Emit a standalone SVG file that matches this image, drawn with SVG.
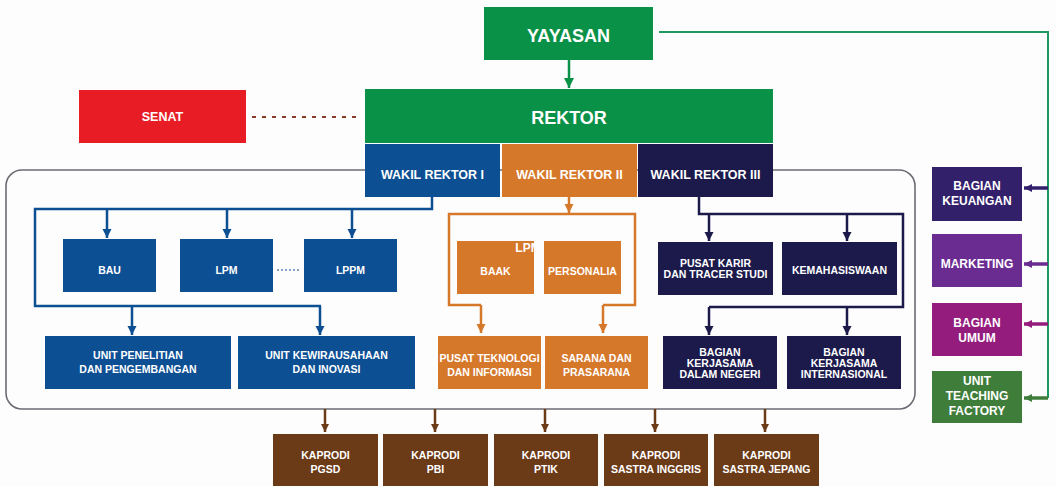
<svg xmlns="http://www.w3.org/2000/svg" width="1056" height="486" viewBox="0 0 1056 486">
<defs>
<style>
text{font-family:"Liberation Sans",Arial,sans-serif;font-weight:bold;fill:#ffffff;text-anchor:middle}
.t10{font-size:10.5px}
.t11{font-size:12px}
.t12{font-size:12.5px}
.t17{font-size:18px}
.ln{fill:none;stroke-width:2.5}
.blue{stroke:#0d4f93}
.orange{stroke:#d6782a}
.navy{stroke:#1c1a4b}
.brown{stroke:#6b3a17}
</style>
<marker id="mBlue" viewBox="0 0 10 10" refX="10" refY="5" markerWidth="9" markerHeight="10" markerUnits="userSpaceOnUse" orient="auto"><path d="M0,0 L10,5 L0,10 z" fill="#0d4f93"/></marker>
<marker id="mOrange" viewBox="0 0 10 10" refX="10" refY="5" markerWidth="9" markerHeight="10" markerUnits="userSpaceOnUse" orient="auto"><path d="M0,0 L10,5 L0,10 z" fill="#d6782a"/></marker>
<marker id="mNavy" viewBox="0 0 10 10" refX="10" refY="5" markerWidth="9" markerHeight="10" markerUnits="userSpaceOnUse" orient="auto"><path d="M0,0 L10,5 L0,10 z" fill="#1c1a4b"/></marker>
<marker id="mBrown" viewBox="0 0 10 10" refX="10" refY="5" markerWidth="8" markerHeight="8" markerUnits="userSpaceOnUse" orient="auto"><path d="M0,0 L10,5 L0,10 z" fill="#6b3a17"/></marker>
<marker id="mGreen" viewBox="0 0 10 10" refX="10" refY="5" markerWidth="10" markerHeight="10" markerUnits="userSpaceOnUse" orient="auto"><path d="M0,0 L10,5 L0,10 z" fill="#0a9148"/></marker>
<marker id="mKeu" viewBox="0 0 10 10" refX="10" refY="5" markerWidth="10" markerHeight="8" markerUnits="userSpaceOnUse" orient="auto"><path d="M0,0 L10,5 L0,10 z" fill="#32206b"/></marker>
<marker id="mMkt" viewBox="0 0 10 10" refX="10" refY="5" markerWidth="10" markerHeight="8" markerUnits="userSpaceOnUse" orient="auto"><path d="M0,0 L10,5 L0,10 z" fill="#6a2c91"/></marker>
<marker id="mUmum" viewBox="0 0 10 10" refX="10" refY="5" markerWidth="10" markerHeight="8" markerUnits="userSpaceOnUse" orient="auto"><path d="M0,0 L10,5 L0,10 z" fill="#931c7c"/></marker>
<marker id="mUtf" viewBox="0 0 10 10" refX="10" refY="5" markerWidth="10" markerHeight="8" markerUnits="userSpaceOnUse" orient="auto"><path d="M0,0 L10,5 L0,10 z" fill="#3f7d3b"/></marker>
</defs>
<rect width="1056" height="486" fill="#fdfdfd"/>

<g id="frame">
<rect x="6" y="170" width="909" height="239" rx="16" ry="16" fill="none" stroke="#6b6b73" stroke-width="1.6"/>
</g>

<g id="connectors">
<path d="M569,60 L569,88" class="ln" stroke="#0a9148" marker-end="url(#mGreen)"/>
<path d="M252,117 L357,117" fill="none" stroke="#8a3a2a" stroke-width="1.8" stroke-dasharray="4,6"/>
<path d="M659,32 L1048,32 L1048,398" fill="none" stroke="#1a9a5e" stroke-width="2"/>
<path d="M1048,188 L1024,188" fill="none" stroke="#32206b" stroke-width="3.5" marker-end="url(#mKeu)"/>
<path d="M1048,264 L1024,264" fill="none" stroke="#6a2c91" stroke-width="3.5" marker-end="url(#mMkt)"/>
<path d="M1048,324 L1024,324" fill="none" stroke="#931c7c" stroke-width="3.5" marker-end="url(#mUmum)"/>
<path d="M1048,398 L1024,398" fill="none" stroke="#3f7d3b" stroke-width="3.5" marker-end="url(#mUtf)"/>

<path d="M432,197 L432,209 L35,209 L35,306 L321,306" class="ln blue"/>
<path d="M107,209 L107,238" class="ln blue" stroke-width="3.5" marker-end="url(#mBlue)"/>
<path d="M227,209 L227,238" class="ln blue" stroke-width="3.5" marker-end="url(#mBlue)"/>
<path d="M352,209 L352,238" class="ln blue" stroke-width="3.5" marker-end="url(#mBlue)"/>
<path d="M132,306 L132,335" class="ln blue" stroke-width="3.5" marker-end="url(#mBlue)"/>
<path d="M320,306 L320,335" class="ln blue" stroke-width="3.5" marker-end="url(#mBlue)"/>
<path d="M277,270 L301,270" fill="none" stroke="#0d4f93" stroke-width="1.2" stroke-dasharray="2,2"/>

<path d="M569,197 L569,213" class="ln orange" marker-end="url(#mOrange)"/>
<path d="M481,305 L449,305 L449,214 L635,214 L635,305 L603,305" class="ln orange"/>
<path d="M481,305 L481,333" class="ln orange" stroke-width="3.5" marker-end="url(#mOrange)"/>
<path d="M603,305 L603,333" class="ln orange" stroke-width="3.5" marker-end="url(#mOrange)"/>

<path d="M699,197 L699,214 L903,214 L903,307 L709,307" class="ln navy"/>
<path d="M709,214 L709,241" class="ln navy" stroke-width="3.5" marker-end="url(#mNavy)"/>
<path d="M847,214 L847,241" class="ln navy" stroke-width="3.5" marker-end="url(#mNavy)"/>
<path d="M709,307 L709,335" class="ln navy" stroke-width="3.5" marker-end="url(#mNavy)"/>
<path d="M847,307 L847,335" class="ln navy" stroke-width="3.5" marker-end="url(#mNavy)"/>

<path d="M325,409 L325,432" class="ln brown" stroke-width="3" marker-end="url(#mBrown)"/>
<path d="M435,409 L435,432" class="ln brown" stroke-width="3" marker-end="url(#mBrown)"/>
<path d="M545,409 L545,432" class="ln brown" stroke-width="3" marker-end="url(#mBrown)"/>
<path d="M655,409 L655,432" class="ln brown" stroke-width="3" marker-end="url(#mBrown)"/>
<path d="M765,409 L765,432" class="ln brown" stroke-width="3" marker-end="url(#mBrown)"/>
</g>

<g id="yayasan"><rect x="484" y="7" width="169" height="53" fill="#0a9148"/><text x="568.5" y="42" class="t17">YAYASAN</text></g>
<g id="senat"><rect x="79" y="90" width="167" height="53" fill="#e81c24"/><text x="162.5" y="121" class="t12">SENAT</text></g>
<g id="rektor"><rect x="365" y="89" width="408" height="54" fill="#0a9148"/><text x="569" y="124" class="t17">REKTOR</text></g>
<g id="wr1"><rect x="365" y="144" width="135" height="53" fill="#0d4f93"/><text x="432.5" y="179" class="t12">WAKIL REKTOR I</text></g>
<g id="wr2"><rect x="502" y="144" width="135" height="53" fill="#d6782a"/><text x="569.5" y="179" class="t12">WAKIL REKTOR II</text></g>
<g id="wr3"><rect x="638" y="144" width="135" height="53" fill="#1c1a4b"/><text x="705.5" y="179" class="t12">WAKIL REKTOR III</text></g>

<g id="bau"><rect x="63" y="239" width="93" height="53" fill="#0d4f93"/><text x="109.5" y="274" class="t10">BAU</text></g>
<g id="lpm"><rect x="180" y="239" width="93" height="53" fill="#0d4f93"/><text x="226.5" y="274" class="t10">LPM</text></g>
<g id="lppm"><rect x="304" y="239" width="93" height="53" fill="#0d4f93"/><text x="350.5" y="274" class="t10">LPPM</text></g>
<g id="unit-penelitian"><rect x="45" y="336" width="186" height="53" fill="#0d4f93"/><text x="138" y="359" class="t10">UNIT PENELITIAN</text><text x="138" y="373" class="t10">DAN PENGEMBANGAN</text></g>
<g id="unit-kewirausahaan"><rect x="238" y="336" width="177" height="53" fill="#0d4f93"/><text x="326.5" y="359" class="t10">UNIT KEWIRAUSAHAAN</text><text x="326.5" y="373" class="t10">DAN INOVASI</text></g>

<g id="baak"><rect x="457" y="241" width="77" height="53" fill="#d6782a"/><text x="495.5" y="275" class="t10">BAAK</text><text x="528" y="252" class="t11">LPM</text></g>
<g id="personalia"><rect x="544" y="241" width="77" height="53" fill="#d6782a"/><text x="582.5" y="275" class="t10">PERSONALIA</text></g>
<g id="pusat-teknologi"><rect x="438" y="336" width="103" height="53" fill="#d6782a"/><text x="489.5" y="362" class="t10">PUSAT TEKNOLOGI</text><text x="489.5" y="376" class="t10">DAN INFORMASI</text></g>
<g id="sarana"><rect x="545" y="336" width="103" height="53" fill="#d6782a"/><text x="596.5" y="362" class="t10">SARANA DAN</text><text x="596.5" y="376" class="t10">PRASARANA</text></g>

<g id="pusat-karir"><rect x="658" y="242" width="115" height="53" fill="#1c1a4b"/><text x="715.5" y="267" class="t10">PUSAT KARIR</text><text x="715.5" y="278" class="t10">DAN TRACER STUDI</text></g>
<g id="kemahasiswaan"><rect x="782" y="242" width="115" height="53" fill="#1c1a4b"/><text x="839.5" y="274" class="t10">KEMAHASISWAAN</text></g>
<g id="kerjasama-dn"><rect x="663" y="336" width="114" height="53" fill="#1c1a4b"/><text x="720" y="356" class="t10">BAGIAN</text><text x="720" y="367" class="t10">KERJASAMA</text><text x="720" y="378" class="t10">DALAM NEGERI</text></g>
<g id="kerjasama-int"><rect x="787" y="336" width="114" height="53" fill="#1c1a4b"/><text x="844" y="356" class="t10">BAGIAN</text><text x="844" y="367" class="t10">KERJASAMA</text><text x="844" y="378" class="t10">INTERNASIONAL</text></g>

<g id="keuangan"><rect x="932" y="167" width="90" height="54" fill="#32206b"/><text x="977" y="190" class="t11">BAGIAN</text><text x="977" y="205" class="t11">KEUANGAN</text></g>
<g id="marketing"><rect x="932" y="234" width="90" height="53" fill="#6a2c91"/><text x="977" y="268" class="t11">MARKETING</text></g>
<g id="umum"><rect x="932" y="303" width="90" height="53" fill="#931c7c"/><text x="977" y="327" class="t11">BAGIAN</text><text x="977" y="342" class="t11">UMUM</text></g>
<g id="teaching-factory"><rect x="932" y="371" width="90" height="52" fill="#3f7d3b"/><text x="977" y="385" class="t11">UNIT</text><text x="977" y="400" class="t11">TEACHING</text><text x="977" y="415" class="t11">FACTORY</text></g>

<g id="kaprodi-pgsd"><rect x="273" y="434" width="105" height="52" fill="#6b3a17"/><text x="325.5" y="459" class="t10">KAPRODI</text><text x="325.5" y="473" class="t10">PGSD</text></g>
<g id="kaprodi-pbi"><rect x="383" y="434" width="105" height="52" fill="#6b3a17"/><text x="435.5" y="459" class="t10">KAPRODI</text><text x="435.5" y="473" class="t10">PBI</text></g>
<g id="kaprodi-ptik"><rect x="494" y="434" width="104" height="52" fill="#6b3a17"/><text x="546" y="459" class="t10">KAPRODI</text><text x="546" y="473" class="t10">PTIK</text></g>
<g id="kaprodi-inggris"><rect x="604" y="434" width="104" height="52" fill="#6b3a17"/><text x="656" y="459" class="t10">KAPRODI</text><text x="656" y="473" class="t10">SASTRA INGGRIS</text></g>
<g id="kaprodi-jepang"><rect x="714" y="434" width="105" height="52" fill="#6b3a17"/><text x="766.5" y="459" class="t10">KAPRODI</text><text x="766.5" y="473" class="t10">SASTRA JEPANG</text></g>
</svg>
